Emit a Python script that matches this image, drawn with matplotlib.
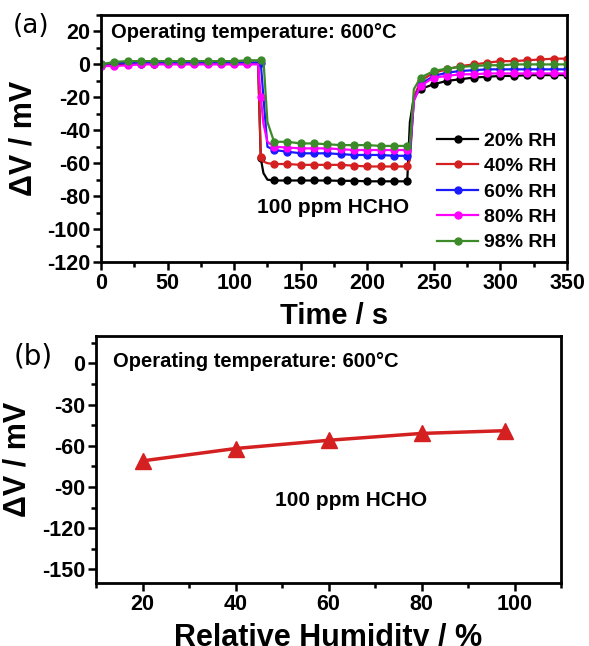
import matplotlib
matplotlib.use('Agg')
import matplotlib.pyplot as plt
from matplotlib.ticker import MultipleLocator

plt.rcParams['font.family'] = ['Liberation Sans', 'DejaVu Sans']
plt.rcParams['font.weight'] = 'bold'
plt.rcParams['axes.unicode_minus'] = False

# panel (a): response transients at 600 C
time = [0, 10, 20, 30, 40, 50, 60, 70, 80, 90, 100, 110,
        118, 120, 122, 125,
        130, 140, 150, 160, 170, 180, 190, 200, 210, 220, 230,
        232, 235,
        240, 250, 260, 270, 280, 290, 300, 310, 320, 330, 340, 350]

rh20 = [-1, -0.5, 0, 0.5, 0.5, 1, 1, 1, 1, 1, 1, 1,
        1, -57, -66, -70,
        -70.5, -70.5, -70.5, -70.5, -70.5, -70.7, -70.7, -71, -71, -71, -71,
        -35, -20,
        -15, -12, -10, -9, -8, -7.5, -7, -7, -6.5, -6.5, -6.5, -6.5]
rh40 = [0, 0.5, 1, 1, 1, 1, 1, 1, 1, 1, 1, 1,
        1, -56, -59, -60,
        -60.5, -60.5, -61, -61, -61, -61, -61.5, -62, -62, -62, -62,
        -58, -20,
        -10, -5, -3, -1, 0, 1, 2, 2, 2.5, 3, 3.5, 3.5]
rh60 = [0, 1, 1, 1, 1, 1, 1, 1, 1, 1, 1, 1,
        1, 1, -20, -50,
        -52, -53, -54, -54, -54, -54.5, -55, -55, -55, -55.5, -55.5,
        -55, -22,
        -12, -7, -5, -4, -3.5, -3, -3, -3, -3, -3, -3, -3]
rh80 = [-1, -1, -0.5, 0, 0, 0, 0, 0, 0, 0, 0, 0,
        0, -20, -36, -47,
        -50, -50.5, -51, -51, -51, -51.5, -52, -52, -52, -52, -52,
        -51, -22,
        -13, -8, -7, -6, -6, -5.5, -5.5, -5.5, -5.5, -5.5, -5.5, -5.5]
rh98 = [0, 1.5, 2, 2, 2, 2, 2, 2, 2, 2, 2, 2.5,
        2.5, 2.5, 3, -35,
        -47, -47, -48, -48, -48.5, -49, -49, -49, -49.5, -49.5, -49.5,
        -49, -15,
        -8, -4, -2.5, -1.5, -1, -0.5, -0.5, 0, 0, 0, 0, 0]

series = [rh20, rh40, rh60, rh80, rh98]
labels = ['20% RH', '40% RH', '60% RH', '80% RH', '98% RH']
colors = ['black', '#d42020', '#1a1aff', '#ff00ff', '#3c8a2a']

# panel (b): response vs humidity
humidity = [20, 40, 60, 80, 98]
response = [-71, -62, -56, -51, -49]

fig = plt.figure(figsize=(5.89, 6.46), dpi=100)
ax1 = fig.add_axes([101/589, 1-262/646, 466/589, 247/646])
ax2 = fig.add_axes([96/589, 1-583/646, 465/589, 247/646])

marks = [i for i, t in enumerate(time) if t % 10 == 0]
for vals, lab, c in zip(series, labels, colors):
    ax1.plot(time, vals, '-o', color=c, lw=1.6, ms=5, markevery=marks, label=lab)

ax1.set_xlim(0, 350)
ax1.xaxis.set_major_locator(MultipleLocator(50))
ax1.xaxis.set_minor_locator(MultipleLocator(25))
ax1.set_yticks(range(-120, 21, 20))
ax1.yaxis.set_minor_locator(MultipleLocator(10))
ax1.set_ylim(-120, 30)
ax1.set_xlabel('Time / s', fontsize=21, fontweight='bold', labelpad=6)
ax1.set_ylabel('ΔV / mV', fontsize=22, fontweight='bold')
ax1.yaxis.set_label_coords(-62/466, 0.5)
ax1.text(7.5, 19.6, 'Operating temperature: 600°C', fontsize=14.5, fontweight='bold', va='center')
ax1.text(117, -87, '100 ppm HCHO', fontsize=15, fontweight='bold', va='center')
ax1.legend(loc='lower right', frameon=False, fontsize=14, handlelength=2.1,
           handletextpad=0.3, labelspacing=0.4, borderaxespad=0.15)

ax2.plot(humidity, response, '-^', color='#d42020', lw=2.5, ms=11)
ax2.set_xlim(10, 110)
ax2.set_xticks([20, 40, 60, 80, 100])
ax2.xaxis.set_minor_locator(MultipleLocator(10))
ax2.set_yticks(range(-150, 1, 30))
ax2.yaxis.set_minor_locator(MultipleLocator(15))
ax2.set_ylim(-160, 20)
ax2.set_xlabel('Relative Humidity / %', fontsize=22, fontweight='bold', labelpad=6)
ax2.set_ylabel('ΔV / mV', fontsize=22, fontweight='bold')
ax2.yaxis.set_label_coords(-63/465, 0.5)
ax2.text(13.6, 1.5, 'Operating temperature: 600°C', fontsize=14.5, fontweight='bold', va='center')
ax2.text(48.5, -100, '100 ppm HCHO', fontsize=15, fontweight='bold', va='center')

for ax in (ax1, ax2):
    for s in ax.spines.values():
        s.set_linewidth(2)
    ax.tick_params(which='both', direction='out', width=1.8, top=False, right=False)
    ax.tick_params(which='major', length=6, labelsize=15.5, pad=2)
    ax.tick_params(which='minor', length=3.5)
    for lbl in ax.get_xticklabels() + ax.get_yticklabels():
        lbl.set_fontweight('bold')

fig.text(13/589, 1-26/646, '(a)', fontsize=19, fontweight='normal', va='center',
         family=['DejaVu Sans'])
fig.text(14/589, 1-356/646, '(b)', fontsize=20, fontweight='normal', va='center',
         family=['DejaVu Sans'])

fig.savefig('out.png', dpi=100)
